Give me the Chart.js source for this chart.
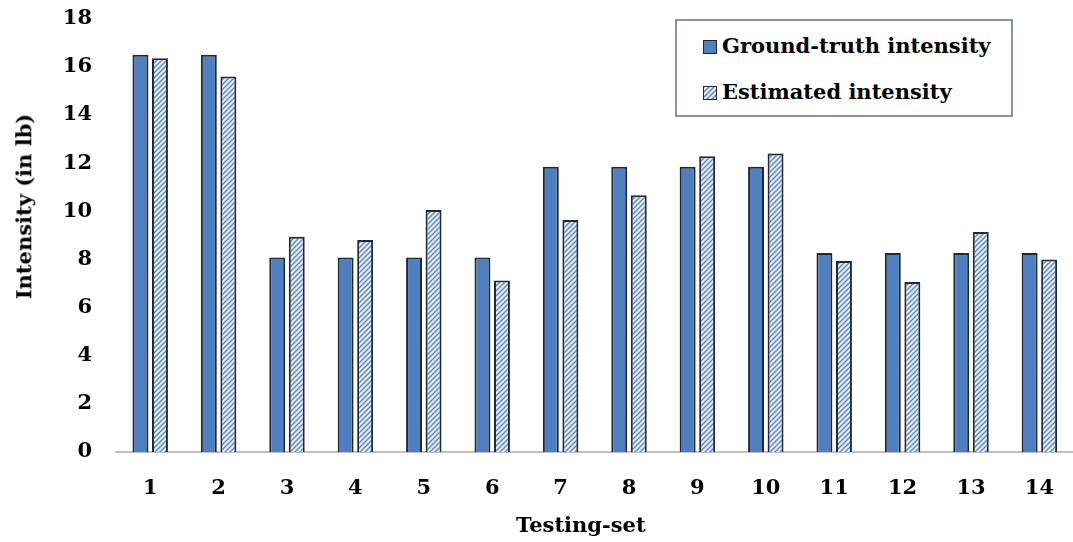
<!DOCTYPE html>
<html>
<head>
<meta charset="utf-8">
<script src="https://cdn.jsdelivr.net/npm/chart.js@4.4.1/dist/chart.umd.min.js"></script>
<style>
html, body { margin: 0; padding: 0; background: #fff; overflow: hidden; }
#wrap { position: relative; width: 1073px; height: 542px; overflow: hidden; }
#chart { position: absolute; left: 0; top: -18px; }
.legend {
    position: absolute; left: 675px; top: 19px; width: 338px; height: 98px;
    border: 2px solid #8c95a8; box-sizing: border-box; background: #fff;
    font: bold 21px "DejaVu Serif"; color: #000;
}
.legend .row { position: absolute; left: 26px; height: 26px; line-height: 26px; white-space: nowrap; }
.legend .sw { display: inline-block; width: 14px; height: 14px; box-sizing: border-box;
    border: 1px solid #1f2838; vertical-align: -1px; margin-right: 5px; }
.axis-title { position: absolute; font: bold 21px "DejaVu Serif"; color: #000; white-space: nowrap; }
</style>
</head>
<body>
<div id="wrap">
    <canvas id="chart" width="1078" height="560"></canvas>
    <div class="legend">
        <div class="row" style="top:12px"><span class="sw" id="sw1"></span>Ground-truth intensity</div>
        <div class="row" style="top:58px"><span class="sw" id="sw2"></span>Estimated intensity</div>
    </div>
    <div class="axis-title" id="ytitle">Intensity (in lb)</div>
    <div class="axis-title" id="xtitle">Testing-set</div>
</div>
<script>
// données
const categories = ['1', '2', '3', '4', '5', '6', '7', '8', '9', '10', '11', '12', '13', '14'];
const groundTruth = [16.5, 16.5, 8.08, 8.08, 8.08, 8.08, 11.85, 11.85, 11.85, 11.85, 8.26, 8.26, 8.26, 8.26];
const estimated = [16.35, 15.6, 8.94, 8.8, 10.05, 7.12, 9.64, 10.66, 12.28, 12.4, 7.93, 7.06, 9.14, 7.99];
const yMin = 0;
const yMax = 18;
const yStep = 2;

const blue = '#4f7fbf';
const edge = '#1f2838';

// hachures pour la série estimée
function makeHatch() {
    const c = document.createElement('canvas');
    c.width = 5;
    c.height = 5;
    const g = c.getContext('2d');
    g.fillStyle = '#e6edf7';
    g.fillRect(0, 0, 5, 5);
    g.strokeStyle = '#5a86c2';
    g.lineWidth = 1.4;
    g.beginPath();
    g.moveTo(-1, 6); g.lineTo(6, -1);
    g.moveTo(-1, 1); g.lineTo(1, -1);
    g.moveTo(4, 6); g.lineTo(6, 4);
    g.stroke();
    return c;
}

const hatchCanvas = makeHatch();
const ctx = document.getElementById('chart').getContext('2d');
const hatch = ctx.createPattern(hatchCanvas, 'repeat');

document.getElementById('sw1').style.background = blue;
document.getElementById('sw2').style.background = 'url(' + hatchCanvas.toDataURL() + ')';

const tickFont = { family: 'DejaVu Serif', weight: 'bold', size: 21 };

new Chart(ctx, {
    type: 'bar',
    data: {
        labels: categories,
        datasets: [
            {
                label: 'Ground-truth intensity',
                data: groundTruth,
                backgroundColor: blue,
                borderColor: edge,
                borderWidth: 2,
                categoryPercentage: 0.571,
                barPercentage: 0.816
            },
            {
                label: 'Estimated intensity',
                data: estimated,
                backgroundColor: hatch,
                borderColor: edge,
                borderWidth: 2,
                categoryPercentage: 0.571,
                barPercentage: 0.816
            }
        ]
    },
    options: {
        responsive: false,
        animation: false,
        layout: { padding: { top: 0, left: 0, right: 0, bottom: 0 } },
        plugins: {
            legend: { display: false },
            tooltip: { enabled: false }
        },
        scales: {
            x: {
                grid: { display: false, drawTicks: false },
                border: { display: true, color: '#bfbfbf', width: 2 },
                ticks: { font: tickFont, color: '#000', padding: 24 },
                afterFit: (s) => { s.height = 90; }
            },
            y: {
                min: yMin,
                max: yMax,
                grid: { display: false, drawTicks: false },
                border: { display: false },
                ticks: { stepSize: yStep, font: tickFont, color: '#000', padding: 24 },
                afterFit: (s) => { s.width = 116; }
            }
        }
    }
});

// titres des axes
const yt = document.getElementById('ytitle');
yt.style.left = (24 - yt.offsetWidth / 2) + 'px';
yt.style.top = (206 - yt.offsetHeight / 2) + 'px';
yt.style.transform = 'rotate(-90deg)';
const xt = document.getElementById('xtitle');
xt.style.left = (581 - xt.offsetWidth / 2) + 'px';
xt.style.top = (524 - xt.offsetHeight / 2) + 'px';
</script>
</body>
</html>
